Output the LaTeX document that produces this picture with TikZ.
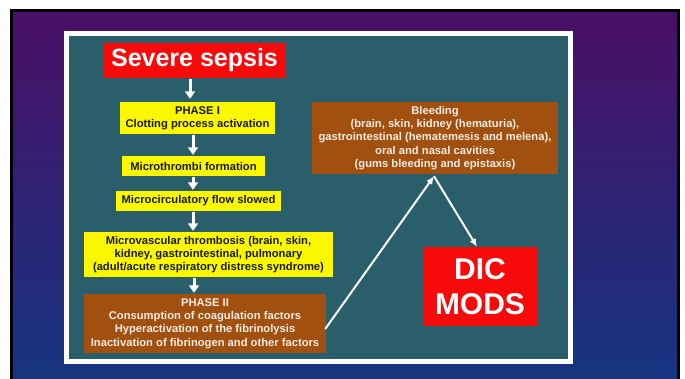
\documentclass[tikz,border=0pt]{standalone}
\usepackage{fontspec}
\setmainfont{Liberation Sans}
\usetikzlibrary{arrows.meta}
\definecolor{bgtop}{HTML}{4A0F66}
\definecolor{bgmid}{HTML}{2D2477}
\definecolor{bgbot}{HTML}{143682}
\definecolor{tealbg}{HTML}{2A5E6A}
\definecolor{redbox}{HTML}{F70A0A}
\definecolor{yelbox}{HTML}{FAF700}
\definecolor{brownbox}{HTML}{A1500F}
\definecolor{creamtxt}{HTML}{F6ECE4}
\definecolor{darktxt}{HTML}{1A1A08}
\tikzset{
  anybox/.style={inner sep=0pt, align=center, font=\bfseries\fontsize{11.2}{13.3}\selectfont},
  yelnode/.style={anybox, fill=yelbox, text=darktxt},
  brownnode/.style={anybox, fill=brownbox, text=creamtxt},
  rednode/.style={inner sep=0pt, align=center, fill=redbox, text=white},
  downarr/.style={draw=white, line width=3pt, -{Triangle[width=10pt,length=7.5pt]}},
  diagarr/.style={draw=white, line width=2pt, -{Latex[width=7pt,length=8pt]}}
}
\begin{document}
\begin{tikzpicture}[x=1pt,y=-1pt]
\useasboundingbox (0,0) rectangle (685,379);
\begin{scope}
  \clip (0,0) rectangle (685,379);
  \shade[top color=bgtop, middle color=bgmid, bottom color=bgbot] (11.5,10.5) rectangle (678.5,392);
  \draw[line width=3pt] (11.5,392) -- (11.5,10.5) -- (678.5,10.5) -- (678.5,392);
\end{scope}
\draw[white, line width=5pt, fill=tealbg] (66.5,33.5) rectangle (570.5,361.5);

\node[rednode, minimum width=181pt, minimum height=35pt, font=\bfseries\fontsize{25}{28}\selectfont] (sepsis) at (194.5,60.5) {Severe sepsis};
\node[yelnode, minimum width=155pt, minimum height=32pt] (phase1) at (197.5,118) {PHASE I\\Clotting process activation};
\node[yelnode, minimum width=143pt, minimum height=20pt] (thrombi) at (193.5,166) {Microthrombi formation};
\node[yelnode, minimum width=165pt, minimum height=20pt] (flow) at (198.5,201) {Microcirculatory flow slowed};
\node[yelnode, minimum width=249pt, minimum height=45pt] (vasc) at (208.5,254.5) {Microvascular thrombosis (brain, skin,\\kidney, gastrointestinal, pulmonary\\(adult/acute respiratory distress syndrome)};
\node[brownnode, minimum width=242pt, minimum height=59pt] (phase2) at (205,323.5) {PHASE II\\Consumption of coagulation factors\\Hyperactivation of the fibrinolysis\\Inactivation of fibrinogen and other factors};
\node[brownnode, minimum width=246pt, minimum height=72pt] (bleed) at (435,138) {Bleeding\\(brain, skin, kidney (hematuria),\\gastrointestinal (hematemesis and melena),\\oral and nasal cavities\\(gums bleeding and epistaxis)};
\node[rednode, minimum width=114pt, minimum height=79pt, font=\bfseries\fontsize{30}{35}\selectfont] (dic) at (480,286.5) {DIC\\MODS};

\draw[downarr, shorten <=1pt, shorten >=3pt] (sepsis.south -| 190,0) -- (phase1.north -| 190,0);
\draw[downarr, shorten <=1pt, shorten >=1pt] (phase1.south -| 193,0) -- (thrombi.north -| 193,0);
\draw[downarr, shorten <=1pt, shorten >=1pt] (thrombi.south -| 193,0) -- (flow.north -| 193,0);
\draw[downarr, shorten <=1pt, shorten >=1pt] (flow.south -| 193,0) -- (vasc.north -| 193,0);
\draw[downarr, shorten <=1pt, shorten >=1pt] (vasc.south -| 194,0) -- (phase2.north -| 194,0);

\coordinate (apex) at ([xshift=-1pt,yshift=-2pt]bleed.south);
\draw[diagarr] ([xshift=-1pt,yshift=-5.5pt]phase2.east) -- (apex);
\draw[diagarr] (apex) -- ([xshift=-3pt]dic.north);
\end{tikzpicture}
\end{document}
